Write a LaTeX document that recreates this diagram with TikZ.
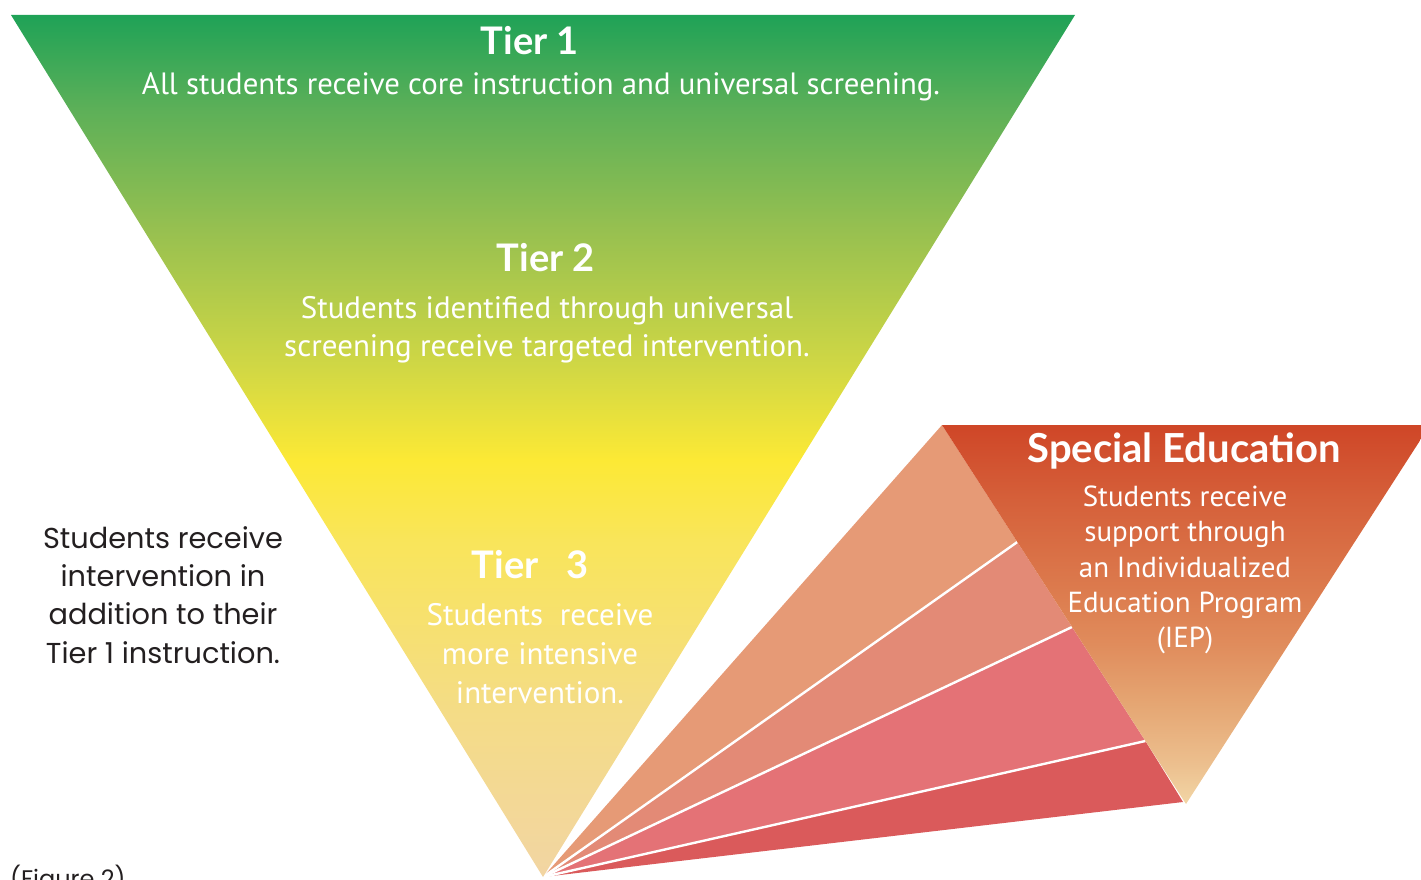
\documentclass[tikz,border=0pt]{standalone}
\usepackage{fontspec}
\setmainfont{PT Sans}
\newfontfamily\headfont{Lato}
\newfontfamily\sidefont{Poppins}
\definecolor{gA}{HTML}{1FA257}
\definecolor{gB}{HTML}{5DB058}
\definecolor{gC}{HTML}{97C050}
\definecolor{gD}{HTML}{D2D844}
\definecolor{gE}{HTML}{FCE935}
\definecolor{gF}{HTML}{F9E55A}
\definecolor{gG}{HTML}{F4DC86}
\definecolor{gH}{HTML}{F2D5A3}
\definecolor{sA}{HTML}{CF4627}
\definecolor{sB}{HTML}{D5603A}
\definecolor{sC}{HTML}{DD7E50}
\definecolor{sD}{HTML}{E08C5C}
\definecolor{sE}{HTML}{E5A673}
\definecolor{sF}{HTML}{ECBF8E}
\definecolor{sG}{HTML}{F2D6A6}
\definecolor{fanA}{HTML}{E69A76}
\definecolor{fanB}{HTML}{E38A76}
\definecolor{fanC}{HTML}{E47276}
\definecolor{fanD}{HTML}{DA5A5B}
\definecolor{sidetext}{HTML}{231F20}
% main triangle: y 15..877 mapped to 75bp..25bp
\pgfdeclareverticalshading{tiershade}{100bp}{%
  color(0bp)=(gH); color(25bp)=(gH); color(34.69bp)=(gG); color(44.55bp)=(gF);
  color(49.19bp)=(gE); color(54.41bp)=(gD); color(62.53bp)=(gC);
  color(69.49bp)=(gB); color(75bp)=(gA); color(100bp)=(gA)}
% special education triangle: y 425..804
\pgfdeclareverticalshading{spedshade}{100bp}{%
  color(0bp)=(sG); color(25bp)=(sG); color(30.3bp)=(sF); color(38.2bp)=(sE);
  color(46.1bp)=(sD); color(51.9bp)=(sC); color(65.1bp)=(sB);
  color(75bp)=(sA); color(100bp)=(sA)}
\tikzset{
  headtext/.style={text=white, font=\headfont\bfseries\fontsize{38}{44}\selectfont, inner sep=0pt},
  bodytext/.style={text=white, align=center, inner sep=0pt},
  sidenote/.style={text=sidetext, align=center, inner sep=0pt, font=\sidefont\fontsize{28.8}{38.3}\selectfont},
  fanstrip/.style={draw=none},
  fanline/.style={draw=white, line width=2.4pt}
}
\begin{document}
\begin{tikzpicture}[x=1pt, y=-1pt]
\useasboundingbox (0,0) rectangle (1421,880);
% key points
\coordinate (apex) at (543,877);
\coordinate (tl) at (11,15);
\coordinate (tr) at (1075,15);
\coordinate (sl) at (942,425);
\coordinate (sr) at (1430,425);
\coordinate (sapex) at (1186,804);
\coordinate (p1) at (1017.3,542);
\coordinate (p2) at (1072,627);
\coordinate (p3) at (1145.4,741);
\coordinate (p4) at (1183,802);
% fan strips
\fill[fanA, fanstrip] (apex) -- (sl) -- (p1) -- cycle;
\fill[fanB, fanstrip] (apex) -- (p1) -- (p2) -- cycle;
\fill[fanC, fanstrip] (apex) -- (p2) -- (p3) -- cycle;
\fill[fanD, fanstrip] (apex) -- (p3) -- (p4) -- cycle;
\draw[fanline] (apex) -- (p1);
\draw[fanline] (apex) -- (p2);
\draw[fanline] (apex) -- (p3);
% main triangle
\shade[shading=tiershade] (tl) -- (tr) -- (apex) -- cycle;
% special education triangle
\shade[shading=spedshade] (sl) -- (sr) -- (sapex) -- cycle;
% texts
\node[headtext] (t1) at (530,41) {Tier 1};
\node[bodytext, font=\fontsize{30.8}{36}\selectfont] (t1b) at (541,87) {All students receive core instruction and universal screening.};
\node[headtext] (t2) at (546,258) {Tier 2};
\node[bodytext, font=\fontsize{31}{38}\selectfont] (t2b) at (547,330) {Students identified through universal\\screening receive targeted intervention.};
\node[headtext] (t3) at (530,565) {Tier\ \ \ 3};
\node[bodytext, font=\fontsize{31}{39}\selectfont] (t3b) at (540,654) {Students\ \ receive\\more intensive\\intervention.};
\node[headtext, font=\headfont\bfseries\fontsize{40}{46}\selectfont] (sp) at (1184,451) {Special Education};
\node[bodytext, font=\fontsize{29}{35.25}\selectfont] (spb) at (1185,570) {Students receive\\support through\\an Individualized\\Education Program\\(IEP)};
\node[sidenote] (side) at (163,595) {Students receive\\intervention in\\addition to their\\Tier 1 instruction.};
\node[text=sidetext, inner sep=0pt, anchor=north west, font=\sidefont\fontsize{24}{30}\selectfont] (fig) at (10,865) {(Figure 2)};
\end{tikzpicture}
\end{document}
